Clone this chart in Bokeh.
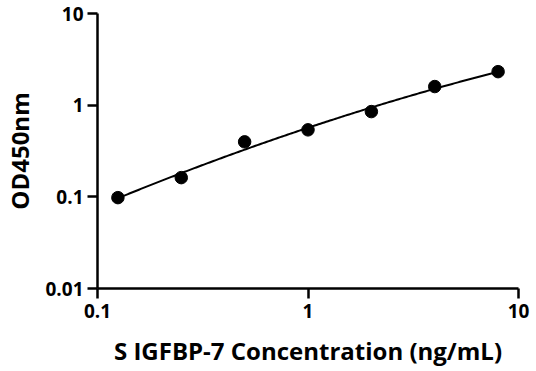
import numpy as np
from bokeh.plotting import figure
from bokeh.models import Range1d, FixedTicker
from bokeh.embed import file_html
from bokeh.resources import INLINE

conc = [0.125, 0.25, 0.5, 1, 2, 4, 8]
od = [0.098, 0.162, 0.398, 0.538, 0.851, 1.596, 2.32]
x_ticks = [0.1, 1, 10]
y_ticks = [0.01, 0.1, 1, 10]
x_label = "S IGFBP-7 Concentration (ng/mL)"
y_label = "OD450nm"

FONT = "Open Sans"

p = figure(width=536, height=371, x_axis_type="log", y_axis_type="log",
           x_range=Range1d(0.1, 10), y_range=Range1d(0.01, 10),
           output_backend="svg", toolbar_location=None,
           min_border_left=94, min_border_right=18, min_border_top=13,
           min_border_bottom=83)
p.outline_line_color = None
p.grid.visible = False
p.background_fill_color = "white"

# fitted curve (quadratic in log-log space, derived from the data)
lx = np.log10(conc)
ly = np.log10(od)
coef = np.polyfit(lx, ly, 2)
gx = np.linspace(lx[0], lx[-1], 200)
gy = np.polyval(coef, gx)
p.line(10 ** gx, 10 ** gy, line_color="black", line_width=2)
p.scatter(conc, od, size=12.5, fill_color="black", line_color="black")

for ax, ticks in ((p.xaxis, x_ticks), (p.yaxis, y_ticks)):
    ax.ticker = FixedTicker(ticks=ticks)
    ax.minor_tick_line_color = None
    ax.major_tick_in = 0
    ax.major_tick_out = 10
    ax.axis_line_width = 2.5
    ax.major_tick_line_width = 2.5
    ax.axis_line_color = "black"
    ax.major_tick_line_color = "black"
    ax.major_label_text_font = FONT
    ax.major_label_text_font_style = "bold"
    ax.major_label_text_font_size = "19px"
    ax.major_label_text_color = "black"
    ax.axis_label_text_font = FONT
    ax.axis_label_text_font_style = "bold"
    ax.axis_label_text_color = "black"

p.xaxis.major_label_overrides = {0.1: "0.1", 1: "1", 10: "10"}
p.yaxis.major_label_overrides = {0.01: "0.01", 0.1: "0.1", 1: "1", 10: "10"}
p.xaxis.major_label_standoff = 5
p.yaxis.major_label_standoff = 4

p.xaxis.axis_label = x_label
p.xaxis.axis_label_text_font_size = "24px"
p.xaxis.axis_label_standoff = 13

p.yaxis.axis_label = y_label
p.yaxis.axis_label_text_font_size = "24px"
p.yaxis.axis_label_standoff = 6

open("out.html", "w").write(file_html(p, INLINE))
